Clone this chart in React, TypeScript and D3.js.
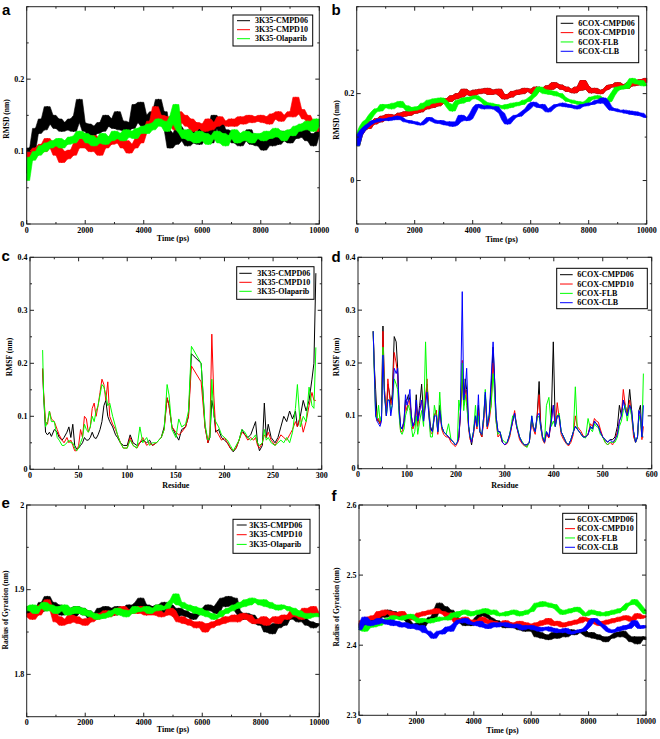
import React from 'react';
import * as d3 from 'd3';

// ---------- shared axes ----------
const TIME = d3.range(0, 10001, 100);

// ---------- panel a : RMSD 3K35 ----------
const A_CMPD06 = [
  0.070, 0.105, 0.100, 0.132, 0.125, 0.145, 0.130, 0.162, 0.138, 0.150,
  0.132, 0.145, 0.128, 0.140, 0.130, 0.145, 0.128, 0.150, 0.172, 0.140,
  0.128, 0.138, 0.118, 0.135, 0.125, 0.140, 0.128, 0.150, 0.135, 0.145,
  0.132, 0.155, 0.130, 0.142, 0.128, 0.140, 0.132, 0.165, 0.140, 0.168,
  0.135, 0.150, 0.138, 0.155, 0.145, 0.172, 0.148, 0.155, 0.130, 0.105,
  0.125, 0.110, 0.135, 0.115, 0.128, 0.108, 0.130, 0.112, 0.125, 0.110,
  0.135, 0.118, 0.128, 0.112, 0.150, 0.132, 0.145, 0.120, 0.130, 0.115,
  0.128, 0.112, 0.125, 0.108, 0.122, 0.115, 0.130, 0.110, 0.118, 0.108,
  0.120, 0.102, 0.115, 0.125, 0.108, 0.122, 0.110, 0.128, 0.115, 0.125,
  0.112, 0.130, 0.118, 0.135, 0.120, 0.138, 0.115, 0.125, 0.108, 0.122,
  0.128];
const A_CMPD10 = [
  0.090, 0.100, 0.092, 0.105, 0.098, 0.110, 0.100, 0.118, 0.105, 0.112,
  0.095, 0.105, 0.085, 0.100, 0.090, 0.102, 0.095, 0.112, 0.105, 0.118,
  0.105, 0.118, 0.100, 0.122, 0.110, 0.095, 0.115, 0.105, 0.120, 0.110,
  0.125, 0.112, 0.118, 0.105, 0.115, 0.098, 0.110, 0.105, 0.118, 0.112,
  0.125, 0.130, 0.142, 0.135, 0.162, 0.145, 0.150, 0.140, 0.148, 0.135,
  0.142, 0.130, 0.155, 0.140, 0.150, 0.135, 0.145, 0.128, 0.140, 0.132,
  0.138, 0.128, 0.145, 0.130, 0.140, 0.135, 0.148, 0.138, 0.142, 0.135,
  0.145, 0.135, 0.140, 0.148, 0.138, 0.145, 0.150, 0.140, 0.148, 0.142,
  0.150, 0.140, 0.148, 0.138, 0.152, 0.145, 0.155, 0.142, 0.150, 0.148,
  0.155, 0.148, 0.175, 0.152, 0.158, 0.145, 0.150, 0.138, 0.142, 0.130,
  0.128];
const A_OLAPARIB = [
  0.060, 0.092, 0.088, 0.100, 0.095, 0.108, 0.100, 0.112, 0.105, 0.115,
  0.108, 0.118, 0.105, 0.115, 0.110, 0.120, 0.112, 0.122, 0.128, 0.118,
  0.125, 0.112, 0.122, 0.108, 0.118, 0.112, 0.125, 0.110, 0.120, 0.115,
  0.128, 0.118, 0.125, 0.115, 0.130, 0.120, 0.128, 0.118, 0.132, 0.125,
  0.135, 0.125, 0.138, 0.130, 0.140, 0.145, 0.135, 0.142, 0.128, 0.138,
  0.150, 0.165, 0.130, 0.125, 0.118, 0.130, 0.115, 0.125, 0.112, 0.128,
  0.115, 0.125, 0.110, 0.122, 0.118, 0.128, 0.112, 0.125, 0.108, 0.122,
  0.118, 0.130, 0.112, 0.125, 0.115, 0.128, 0.120, 0.112, 0.125, 0.118,
  0.125, 0.115, 0.128, 0.118, 0.122, 0.132, 0.120, 0.128, 0.115, 0.125,
  0.130, 0.122, 0.135, 0.128, 0.138, 0.130, 0.142, 0.135, 0.128, 0.145,
  0.135];

// ---------- panel b : RMSD 6COX ----------
const B_CMPD10 = [
  0.080, 0.105, 0.115, 0.125, 0.120, 0.135, 0.130, 0.142, 0.135, 0.148,
  0.140, 0.152, 0.145, 0.150, 0.142, 0.155, 0.148, 0.158, 0.150, 0.160,
  0.155, 0.162, 0.158, 0.168, 0.165, 0.175, 0.168, 0.178, 0.172, 0.182,
  0.178, 0.188, 0.182, 0.195, 0.188, 0.200, 0.192, 0.210, 0.198, 0.205,
  0.195, 0.208, 0.200, 0.210, 0.202, 0.212, 0.198, 0.208, 0.200, 0.210,
  0.195, 0.188, 0.198, 0.192, 0.205, 0.198, 0.208, 0.200, 0.212, 0.205,
  0.210, 0.200, 0.215, 0.205, 0.212, 0.208, 0.218, 0.210, 0.225, 0.215,
  0.220, 0.210, 0.215, 0.205, 0.210, 0.202, 0.215, 0.208, 0.230, 0.218,
  0.210, 0.202, 0.212, 0.205, 0.200, 0.208, 0.210, 0.218, 0.220, 0.215,
  0.225, 0.215, 0.220, 0.212, 0.225, 0.218, 0.228, 0.220, 0.232, 0.225,
  0.235];
const B_CMPD06 = B_CMPD10; // hidden beneath CMPD10 in the figure
const B_FLB = [
  0.080, 0.110, 0.125, 0.135, 0.140, 0.150, 0.158, 0.165, 0.160, 0.175,
  0.168, 0.175, 0.165, 0.178, 0.170, 0.182, 0.168, 0.172, 0.160, 0.168,
  0.162, 0.170, 0.165, 0.178, 0.172, 0.185, 0.178, 0.188, 0.180, 0.190,
  0.185, 0.178, 0.168, 0.160, 0.175, 0.185, 0.178, 0.190, 0.182, 0.192,
  0.188, 0.195, 0.190, 0.185, 0.180, 0.172, 0.178, 0.168, 0.175, 0.170,
  0.172, 0.165, 0.175, 0.168, 0.178, 0.172, 0.180, 0.175, 0.185, 0.182,
  0.190, 0.195, 0.205, 0.215, 0.210, 0.200, 0.208, 0.198, 0.205, 0.195,
  0.200, 0.192, 0.188, 0.182, 0.185, 0.178, 0.182, 0.175, 0.180, 0.178,
  0.185, 0.192, 0.188, 0.195, 0.190, 0.185, 0.180, 0.182, 0.195, 0.205,
  0.215, 0.210, 0.218, 0.212, 0.225, 0.235, 0.228, 0.222, 0.230, 0.218,
  0.220];
const B_CLB = [
  0.080, 0.105, 0.115, 0.122, 0.128, 0.132, 0.138, 0.135, 0.142, 0.138,
  0.142, 0.138, 0.145, 0.140, 0.148, 0.145, 0.140, 0.135, 0.138, 0.132,
  0.135, 0.130, 0.128, 0.132, 0.138, 0.145, 0.140, 0.135, 0.132, 0.138,
  0.130, 0.128, 0.135, 0.125, 0.128, 0.135, 0.150, 0.145, 0.138, 0.142,
  0.155, 0.168, 0.175, 0.170, 0.165, 0.172, 0.168, 0.165, 0.170, 0.160,
  0.155, 0.140, 0.130, 0.138, 0.145, 0.150, 0.148, 0.155, 0.160, 0.165,
  0.175, 0.180, 0.172, 0.168, 0.175, 0.165, 0.158, 0.165, 0.170, 0.175,
  0.172, 0.178, 0.170, 0.175, 0.168, 0.172, 0.165, 0.170, 0.175, 0.172,
  0.178, 0.175, 0.180, 0.185, 0.178, 0.190, 0.182, 0.170, 0.162, 0.165,
  0.160, 0.158, 0.162, 0.155, 0.160, 0.152, 0.158, 0.150, 0.155, 0.148,
  0.145];

// ---------- panel c : RMSF 3K35 ----------
const C_RESIDUE = [
  13, 14, 16, 18, 20, 22, 25, 28, 30, 33,
  35, 38, 40, 42, 44, 46, 48, 50, 52, 54,
  56, 58, 60, 62, 64, 66, 68, 70, 72, 74,
  76, 78, 80, 82, 85, 88, 90, 93, 96, 100,
  103, 106, 110, 113, 116, 120, 123, 126, 130, 135,
  138, 141, 143, 146, 150, 153, 156, 160, 163, 166,
  176, 180, 183, 185, 187, 189, 191, 194, 197, 200,
  203, 206, 209, 212, 215, 218, 221, 224, 227, 230,
  232, 234, 236, 239, 241, 243, 245, 248, 252, 255,
  258, 261, 264, 267, 270, 273, 275, 278, 281, 284,
  287, 290, 292, 294];
const C_CMPD06 = [
  0.19, 0.14, 0.07, 0.065, 0.07, 0.062, 0.075, 0.07, 0.06, 0.055,
  0.06, 0.07, 0.08, 0.06, 0.085, 0.045, 0.038, 0.04, 0.045, 0.05,
  0.06, 0.055, 0.055, 0.06, 0.07, 0.06, 0.058, 0.065, 0.075, 0.09,
  0.12, 0.13, 0.1, 0.09, 0.08, 0.065, 0.06, 0.05, 0.045, 0.045,
  0.065, 0.05, 0.045, 0.05, 0.055, 0.05, 0.055, 0.045, 0.05, 0.06,
  0.08, 0.135, 0.12, 0.08, 0.065, 0.055, 0.075, 0.08, 0.1, 0.218,
  0.2, 0.08, 0.05, 0.06, 0.13, 0.11, 0.07, 0.075, 0.06, 0.055,
  0.05, 0.04, 0.033, 0.04, 0.055, 0.075, 0.065, 0.06, 0.065, 0.08,
  0.09, 0.05, 0.035, 0.045, 0.125, 0.06, 0.085, 0.06, 0.05, 0.06,
  0.08, 0.1, 0.09, 0.11, 0.095, 0.11, 0.08, 0.1, 0.13, 0.11,
  0.13, 0.17, 0.2, 0.37];
const C_CMPD10 = [
  0.19, 0.145, 0.09, 0.085, 0.11, 0.095, 0.09, 0.075, 0.065, 0.055,
  0.05, 0.06, 0.05, 0.055, 0.045, 0.035, 0.035, 0.045, 0.075, 0.06,
  0.1, 0.095, 0.07, 0.08, 0.115, 0.125, 0.1, 0.12, 0.145, 0.17,
  0.16, 0.13, 0.165, 0.1, 0.085, 0.075, 0.065, 0.05, 0.04, 0.04,
  0.06, 0.045, 0.04, 0.05, 0.06, 0.045, 0.05, 0.045, 0.05, 0.06,
  0.075, 0.135, 0.12, 0.08, 0.07, 0.065, 0.07, 0.08, 0.1, 0.195,
  0.165, 0.08, 0.05, 0.07, 0.255, 0.14, 0.075, 0.065, 0.055, 0.06,
  0.05, 0.04, 0.035, 0.04, 0.055, 0.07, 0.065, 0.055, 0.06, 0.055,
  0.06, 0.045, 0.04, 0.05, 0.065, 0.06, 0.07, 0.055, 0.045, 0.055,
  0.065, 0.06, 0.055, 0.065, 0.075, 0.09, 0.08, 0.1, 0.07, 0.09,
  0.12, 0.145, 0.13, 0.13];
const C_OLAPARIB = [
  0.225, 0.14, 0.08, 0.09, 0.11, 0.09, 0.09, 0.06, 0.055, 0.045,
  0.045, 0.05, 0.055, 0.05, 0.05, 0.04, 0.035, 0.04, 0.05, 0.06,
  0.085, 0.075, 0.07, 0.08, 0.1, 0.09, 0.11, 0.12, 0.14, 0.16,
  0.155, 0.14, 0.12, 0.125, 0.1, 0.08, 0.065, 0.05, 0.04, 0.04,
  0.055, 0.045, 0.04, 0.08, 0.05, 0.06, 0.045, 0.05, 0.05, 0.06,
  0.075, 0.16, 0.14, 0.075, 0.06, 0.095, 0.08, 0.085, 0.11, 0.232,
  0.2, 0.085, 0.055, 0.06, 0.17, 0.1, 0.09, 0.08, 0.065, 0.06,
  0.055, 0.045, 0.035, 0.045, 0.055, 0.075, 0.07, 0.06, 0.055, 0.06,
  0.065, 0.05, 0.045, 0.05, 0.075, 0.055, 0.06, 0.05, 0.045, 0.05,
  0.055, 0.05, 0.06, 0.05, 0.07, 0.115, 0.16, 0.08, 0.1, 0.09,
  0.155, 0.12, 0.115, 0.23];

// ---------- panel d : RMSF 6COX ----------
const D_RESIDUE = [
  31, 33, 36, 39, 42, 45, 48, 51, 54, 58,
  61, 64, 67, 70, 74, 78, 81, 84, 87, 90,
  94, 97, 100, 103, 106, 109, 112, 116, 119, 122,
  126, 130, 134, 138, 141, 145, 148, 152, 156, 160,
  163, 167, 171, 175, 180, 185, 190, 195, 199, 203,
  206, 209, 213, 216, 219, 222, 226, 229, 232, 236,
  240, 243, 246, 249, 253, 257, 260, 264, 268, 272,
  276, 279, 282, 286, 290, 295, 300, 305, 310, 316,
  320, 324, 330, 335, 340, 345, 350, 355, 358, 362,
  366, 370, 373, 377, 381, 385, 390, 395, 399, 403,
  407, 411, 415, 420, 425, 430, 435, 440, 444, 448,
  452, 456, 460, 465, 470, 475, 479, 483, 487, 491,
  495, 500, 505, 510, 515, 520, 525, 530, 534, 538,
  542, 546, 550, 555, 559, 563, 567, 571, 574, 577,
  580, 583];
const D_CMPD06 = [
  0.26, 0.2, 0.15, 0.095, 0.09, 0.085, 0.1, 0.27, 0.15, 0.1,
  0.16, 0.145, 0.125, 0.14, 0.25, 0.24, 0.19, 0.12, 0.08, 0.075,
  0.09, 0.13, 0.13, 0.14, 0.13, 0.1, 0.08, 0.09, 0.14, 0.09,
  0.12, 0.16, 0.1, 0.13, 0.16, 0.11, 0.08, 0.07, 0.1, 0.11,
  0.07, 0.12, 0.08, 0.07, 0.065, 0.06, 0.055, 0.05, 0.045, 0.05,
  0.06, 0.1, 0.17, 0.12, 0.17, 0.15, 0.08, 0.06, 0.045, 0.07,
  0.1, 0.08, 0.12, 0.07, 0.06, 0.1, 0.14, 0.08, 0.1, 0.15,
  0.23, 0.17, 0.1, 0.07, 0.07, 0.05, 0.045, 0.05, 0.065, 0.09,
  0.105, 0.08, 0.06, 0.05, 0.045, 0.045, 0.05, 0.095, 0.08, 0.07,
  0.1, 0.165, 0.09, 0.06, 0.05, 0.07, 0.06, 0.1, 0.24, 0.08,
  0.1, 0.1, 0.07, 0.06, 0.05, 0.045, 0.055, 0.07, 0.08, 0.075,
  0.07, 0.065, 0.06, 0.06, 0.065, 0.08, 0.075, 0.09, 0.085, 0.08,
  0.07, 0.06, 0.055, 0.05, 0.055, 0.055, 0.06, 0.08, 0.12, 0.1,
  0.13, 0.12, 0.1, 0.15, 0.11, 0.07, 0.05, 0.06, 0.11, 0.12,
  0.06, 0.06];
const D_CMPD10 = [
  0.26, 0.2, 0.11, 0.09, 0.095, 0.085, 0.095, 0.26, 0.15, 0.1,
  0.17, 0.14, 0.12, 0.13, 0.22, 0.2, 0.18, 0.11, 0.07, 0.07,
  0.085, 0.12, 0.11, 0.13, 0.125, 0.1, 0.075, 0.085, 0.12, 0.08,
  0.11, 0.13, 0.09, 0.13, 0.17, 0.1, 0.07, 0.065, 0.1, 0.11,
  0.065, 0.11, 0.075, 0.065, 0.06, 0.06, 0.05, 0.045, 0.042, 0.048,
  0.055, 0.1, 0.205, 0.12, 0.15, 0.13, 0.075, 0.055, 0.05, 0.065,
  0.095, 0.075, 0.11, 0.07, 0.06, 0.09, 0.13, 0.075, 0.09, 0.12,
  0.2, 0.16, 0.09, 0.06, 0.065, 0.05, 0.045, 0.048, 0.06, 0.09,
  0.11, 0.08, 0.055, 0.048, 0.043, 0.042, 0.05, 0.09, 0.075, 0.065,
  0.1, 0.14, 0.08, 0.055, 0.048, 0.065, 0.058, 0.09, 0.12, 0.08,
  0.125, 0.095, 0.065, 0.055, 0.048, 0.043, 0.05, 0.065, 0.1, 0.08,
  0.075, 0.07, 0.062, 0.06, 0.065, 0.085, 0.08, 0.095, 0.09, 0.088,
  0.075, 0.06, 0.05, 0.045, 0.05, 0.045, 0.055, 0.07, 0.09, 0.1,
  0.15, 0.12, 0.1, 0.13, 0.1, 0.06, 0.05, 0.06, 0.1, 0.1,
  0.055, 0.08];
const D_FLB = [
  0.26, 0.19, 0.1, 0.095, 0.12, 0.09, 0.1, 0.23, 0.14, 0.1,
  0.13, 0.13, 0.11, 0.12, 0.17, 0.16, 0.15, 0.1, 0.07, 0.065,
  0.075, 0.1, 0.11, 0.12, 0.11, 0.08, 0.06, 0.07, 0.1, 0.065,
  0.09, 0.11, 0.08, 0.24, 0.15, 0.1, 0.06, 0.06, 0.12, 0.1,
  0.07, 0.145, 0.08, 0.07, 0.065, 0.085, 0.055, 0.05, 0.045, 0.05,
  0.13, 0.11, 0.2, 0.11, 0.14, 0.12, 0.08, 0.06, 0.055, 0.07,
  0.12, 0.08, 0.1, 0.07, 0.065, 0.1, 0.15, 0.08, 0.1, 0.12,
  0.18, 0.14, 0.09, 0.065, 0.07, 0.055, 0.05, 0.05, 0.065, 0.1,
  0.1, 0.085, 0.06, 0.052, 0.045, 0.04, 0.05, 0.1, 0.08, 0.07,
  0.095, 0.1, 0.08, 0.06, 0.05, 0.12, 0.135, 0.08, 0.09, 0.08,
  0.1, 0.105, 0.07, 0.06, 0.05, 0.045, 0.055, 0.07, 0.155, 0.075,
  0.07, 0.065, 0.06, 0.058, 0.095, 0.075, 0.07, 0.085, 0.08, 0.078,
  0.065, 0.06, 0.05, 0.045, 0.05, 0.05, 0.05, 0.06, 0.08, 0.09,
  0.11, 0.12, 0.09, 0.12, 0.1, 0.07, 0.05, 0.06, 0.1, 0.09,
  0.06, 0.18];
const D_CLB = [
  0.26, 0.2, 0.1, 0.09, 0.085, 0.08, 0.09, 0.215, 0.14, 0.1,
  0.13, 0.13, 0.1, 0.12, 0.19, 0.18, 0.19, 0.11, 0.08, 0.075,
  0.09, 0.14, 0.12, 0.13, 0.15, 0.1, 0.08, 0.09, 0.13, 0.09,
  0.11, 0.13, 0.09, 0.12, 0.145, 0.1, 0.075, 0.07, 0.1, 0.1,
  0.07, 0.11, 0.08, 0.07, 0.065, 0.06, 0.055, 0.05, 0.045, 0.05,
  0.06, 0.1, 0.335, 0.13, 0.15, 0.19, 0.08, 0.06, 0.05, 0.07,
  0.1, 0.08, 0.14, 0.07, 0.065, 0.1, 0.145, 0.08, 0.1, 0.17,
  0.24, 0.17, 0.1, 0.07, 0.07, 0.05, 0.045, 0.05, 0.065, 0.09,
  0.105, 0.08, 0.06, 0.05, 0.045, 0.045, 0.05, 0.1, 0.08, 0.07,
  0.1, 0.105, 0.08, 0.06, 0.05, 0.07, 0.06, 0.09, 0.12, 0.08,
  0.1, 0.1, 0.07, 0.06, 0.05, 0.045, 0.055, 0.07, 0.08, 0.075,
  0.07, 0.065, 0.06, 0.06, 0.065, 0.08, 0.075, 0.09, 0.085, 0.08,
  0.07, 0.06, 0.055, 0.05, 0.055, 0.05, 0.055, 0.065, 0.09, 0.1,
  0.13, 0.11, 0.1, 0.12, 0.11, 0.07, 0.05, 0.06, 0.11, 0.1,
  0.06, 0.12];

// ---------- panel e : Rg 3K35 ----------
const E_CMPD06 = [
  1.872, 1.880, 1.868, 1.878, 1.872, 1.885, 1.875, 1.892, 1.878, 1.885,
  1.875, 1.882, 1.870, 1.880, 1.872, 1.878, 1.868, 1.880, 1.872, 1.878,
  1.870, 1.875, 1.865, 1.872, 1.868, 1.878, 1.870, 1.880, 1.872, 1.878,
  1.870, 1.880, 1.872, 1.878, 1.870, 1.882, 1.875, 1.880, 1.885, 1.890,
  1.878, 1.882, 1.872, 1.880, 1.875, 1.882, 1.872, 1.885, 1.878, 1.882,
  1.875, 1.868, 1.878, 1.870, 1.875, 1.868, 1.872, 1.865, 1.870, 1.875,
  1.872, 1.878, 1.882, 1.875, 1.880, 1.872, 1.885, 1.890, 1.880, 1.892,
  1.882, 1.890, 1.875, 1.870, 1.865, 1.872, 1.865, 1.870, 1.860, 1.865,
  1.858, 1.862, 1.850, 1.858, 1.848, 1.860, 1.855, 1.862, 1.858, 1.868,
  1.865, 1.872, 1.868, 1.862, 1.870, 1.865, 1.858, 1.862, 1.855, 1.860,
  1.858];
const E_CMPD10 = [
  1.868, 1.872, 1.865, 1.878, 1.870, 1.882, 1.876, 1.888, 1.878, 1.875,
  1.862, 1.868, 1.858, 1.865, 1.860, 1.870, 1.862, 1.868, 1.860, 1.865,
  1.858, 1.866, 1.862, 1.870, 1.865, 1.872, 1.868, 1.875, 1.868, 1.872,
  1.870, 1.878, 1.872, 1.880, 1.870, 1.876, 1.872, 1.878, 1.872, 1.880,
  1.875, 1.870, 1.878, 1.872, 1.870, 1.875, 1.868, 1.872, 1.870, 1.878,
  1.875, 1.868, 1.862, 1.868, 1.860, 1.865, 1.858, 1.862, 1.855, 1.862,
  1.858, 1.850, 1.860, 1.855, 1.862, 1.858, 1.865, 1.860, 1.868, 1.862,
  1.865, 1.870, 1.862, 1.868, 1.872, 1.865, 1.870, 1.862, 1.860, 1.865,
  1.860, 1.868, 1.858, 1.865, 1.862, 1.868, 1.860, 1.865, 1.870, 1.865,
  1.870, 1.875, 1.868, 1.872, 1.865, 1.878, 1.870, 1.875, 1.880, 1.872,
  1.870];
const E_OLAPARIB = [
  1.880, 1.875, 1.882, 1.872, 1.880, 1.878, 1.885, 1.875, 1.882, 1.878,
  1.872, 1.880, 1.875, 1.882, 1.870, 1.878, 1.872, 1.880, 1.872, 1.878,
  1.870, 1.875, 1.868, 1.872, 1.865, 1.870, 1.866, 1.872, 1.868, 1.875,
  1.872, 1.878, 1.870, 1.876, 1.868, 1.875, 1.872, 1.880, 1.874, 1.878,
  1.875, 1.880, 1.872, 1.878, 1.875, 1.882, 1.876, 1.880, 1.878, 1.885,
  1.888, 1.895, 1.882, 1.885, 1.878, 1.882, 1.875, 1.880, 1.872, 1.878,
  1.870, 1.875, 1.868, 1.872, 1.865, 1.870, 1.868, 1.875, 1.872, 1.878,
  1.875, 1.882, 1.878, 1.885, 1.880, 1.888, 1.882, 1.890, 1.885, 1.888,
  1.882, 1.888, 1.880, 1.885, 1.878, 1.882, 1.876, 1.882, 1.878, 1.880,
  1.875, 1.878, 1.870, 1.875, 1.868, 1.872, 1.866, 1.872, 1.868, 1.872,
  1.868];

// ---------- panel f : Rg 6COX ----------
const F_CMPD06 = [
  2.425, 2.432, 2.428, 2.435, 2.430, 2.438, 2.432, 2.440, 2.445, 2.440,
  2.450, 2.442, 2.448, 2.440, 2.445, 2.438, 2.442, 2.435, 2.430, 2.425,
  2.428, 2.432, 2.425, 2.435, 2.432, 2.440, 2.438, 2.450, 2.460, 2.448,
  2.455, 2.445, 2.450, 2.442, 2.438, 2.432, 2.435, 2.428, 2.432, 2.428,
  2.432, 2.438, 2.442, 2.448, 2.445, 2.440, 2.438, 2.432, 2.435, 2.428,
  2.430, 2.425, 2.432, 2.428, 2.425, 2.430, 2.422, 2.428, 2.420, 2.425,
  2.420, 2.425, 2.412, 2.418, 2.410, 2.415, 2.408, 2.412, 2.418, 2.410,
  2.415, 2.420, 2.412, 2.418, 2.422, 2.415, 2.420, 2.418, 2.422, 2.415,
  2.412, 2.418, 2.410, 2.415, 2.408, 2.412, 2.405, 2.412, 2.410, 2.415,
  2.418, 2.412, 2.420, 2.415, 2.410, 2.405, 2.412, 2.402, 2.408, 2.412,
  2.408];
const F_CMPD10 = [
  2.428, 2.435, 2.432, 2.440, 2.436, 2.442, 2.438, 2.448, 2.442, 2.450,
  2.445, 2.448, 2.440, 2.446, 2.442, 2.448, 2.440, 2.438, 2.442, 2.436,
  2.440, 2.446, 2.442, 2.448, 2.444, 2.450, 2.445, 2.452, 2.446, 2.448,
  2.444, 2.440, 2.446, 2.438, 2.432, 2.438, 2.434, 2.440, 2.436, 2.432,
  2.436, 2.430, 2.435, 2.440, 2.432, 2.436, 2.430, 2.434, 2.428, 2.432,
  2.430, 2.435, 2.428, 2.432, 2.426, 2.430, 2.434, 2.428, 2.432, 2.426,
  2.430, 2.425, 2.432, 2.428, 2.435, 2.430, 2.438, 2.432, 2.428, 2.434,
  2.430, 2.426, 2.432, 2.428, 2.434, 2.430, 2.436, 2.432, 2.440, 2.435,
  2.438, 2.432, 2.436, 2.430, 2.428, 2.434, 2.430, 2.436, 2.432, 2.438,
  2.434, 2.440, 2.436, 2.442, 2.438, 2.434, 2.440, 2.445, 2.438, 2.442,
  2.440];
const F_FLB = [
  2.422, 2.428, 2.420, 2.425, 2.430, 2.426, 2.432, 2.428, 2.435, 2.432,
  2.438, 2.435, 2.442, 2.438, 2.440, 2.436, 2.442, 2.438, 2.444, 2.440,
  2.436, 2.432, 2.438, 2.434, 2.436, 2.432, 2.438, 2.434, 2.440, 2.436,
  2.440, 2.436, 2.442, 2.446, 2.440, 2.448, 2.444, 2.450, 2.446, 2.442,
  2.448, 2.444, 2.450, 2.446, 2.452, 2.448, 2.444, 2.450, 2.446, 2.442,
  2.446, 2.442, 2.448, 2.444, 2.450, 2.446, 2.442, 2.448, 2.444, 2.450,
  2.448, 2.454, 2.460, 2.455, 2.462, 2.456, 2.460, 2.454, 2.458, 2.452,
  2.448, 2.444, 2.450, 2.446, 2.452, 2.448, 2.454, 2.450, 2.446, 2.442,
  2.446, 2.450, 2.444, 2.448, 2.442, 2.446, 2.442, 2.448, 2.444, 2.450,
  2.446, 2.452, 2.450, 2.456, 2.460, 2.458, 2.465, 2.460, 2.455, 2.450,
  2.445];
const F_CLB = [
  2.422, 2.430, 2.440, 2.432, 2.428, 2.435, 2.430, 2.438, 2.432, 2.436,
  2.430, 2.436, 2.428, 2.434, 2.430, 2.426, 2.432, 2.428, 2.424, 2.430,
  2.426, 2.422, 2.428, 2.418, 2.420, 2.415, 2.410, 2.416, 2.420, 2.416,
  2.422, 2.426, 2.420, 2.428, 2.432, 2.436, 2.432, 2.438, 2.434, 2.430,
  2.432, 2.428, 2.434, 2.426, 2.430, 2.424, 2.428, 2.432, 2.426, 2.432,
  2.428, 2.432, 2.426, 2.430, 2.425, 2.430, 2.426, 2.422, 2.428, 2.424,
  2.428, 2.422, 2.426, 2.420, 2.425, 2.422, 2.426, 2.420, 2.424, 2.418,
  2.422, 2.418, 2.424, 2.420, 2.416, 2.420, 2.418, 2.422, 2.420, 2.424,
  2.428, 2.435, 2.438, 2.434, 2.430, 2.428, 2.424, 2.420, 2.418, 2.422,
  2.420, 2.426, 2.422, 2.428, 2.424, 2.430, 2.435, 2.428, 2.424, 2.428,
  2.425];

// ---------- tick labels ----------
const TIME_TICKS = [0, 2000, 4000, 6000, 8000, 10000];
const A_YTICKS = [0, 0.1, 0.2];
const B_YTICKS = [0, 0.2];
const C_XTICKS = [0, 50, 100, 150, 200, 250, 300];
const RMSF_YTICKS = [0, 0.1, 0.2, 0.3, 0.4];
const D_XTICKS = [0, 100, 200, 300, 400, 500, 600];
const E_YTICKS = [1.8, 1.9, 2];
const F_YTICKS = [2.3, 2.4, 2.5, 2.6];

const NAMES_3K35 = ['3K35-CMPD06', '3K35-CMPD10', '3K35-Olaparib'];
const NAMES_6COX = ['6COX-CMPD06', '6COX-CMPD10', '6COX-FLB', '6COX-CLB'];
const COLORS = ['#000000', '#ff0000', '#00ff00', '#0000ff'];

const SERIF = "'Liberation Serif','Times New Roman',serif";
const SANS = "'Liberation Sans',Arial,sans-serif";

type Legend = { x: number; y: number; w: number; h: number; l0: number; l1: number; tx: number; r0: number; step: number };
type Cfg = {
  letter: string; lx: number; ly: number;
  left: number; right: number; top: number; bottom: number;
  xDomain: [number, number]; yDomain: [number, number];
  xTicks: number[]; xMinorStep: number; yTicks: number[]; yMinorStep: number;
  xTitle: string; yTitle: string; xTitleY: number; yTitleX: number; yTitleY: number;
  x: number[]; series: number[][]; names: string[]; legend: Legend; dense: boolean;
};

const PANELS: Cfg[] = [
  {
    letter: 'a', lx: 2, ly: 15, left: 26.7, right: 319.3, top: 6.7, bottom: 224,
    xDomain: [0, 10000], yDomain: [0, 0.3], xTicks: TIME_TICKS, xMinorStep: 1000, yTicks: A_YTICKS, yMinorStep: 0.05,
    xTitle: 'Time (ps)', yTitle: 'RMSD (nm)', xTitleY: 241, yTitleX: 7, yTitleY: 119,
    x: TIME, series: [A_CMPD06, A_CMPD10, A_OLAPARIB], names: NAMES_3K35, dense: true,
    legend: { x: 233, y: 15, w: 79.7, h: 31, l0: 237, l1: 250, tx: 255, r0: 20.7, step: 9 },
  },
  {
    letter: 'b', lx: 331.5, ly: 15, left: 356.7, right: 646.7, top: 6.7, bottom: 224,
    xDomain: [0, 10000], yDomain: [-0.1, 0.4], xTicks: TIME_TICKS, xMinorStep: 1000, yTicks: B_YTICKS, yMinorStep: 0.1,
    xTitle: 'Time (ps)', yTitle: 'RMSD (nm)', xTitleY: 242, yTitleX: 336.5, yTitleY: 120,
    x: TIME, series: [B_CMPD06, B_CMPD10, B_FLB, B_CLB], names: NAMES_6COX, dense: true,
    legend: { x: 556.7, y: 16, w: 82, h: 46.7, l0: 560.7, l1: 573.3, tx: 578.3, r0: 23.3, step: 9.33 },
  },
  {
    letter: 'c', lx: 1.5, ly: 261, left: 30, right: 321.7, top: 257.3, bottom: 469.3,
    xDomain: [0, 300], yDomain: [0, 0.4], xTicks: C_XTICKS, xMinorStep: 25, yTicks: RMSF_YTICKS, yMinorStep: 0.05,
    xTitle: 'Residue', yTitle: 'RMSF (nm)', xTitleY: 488, yTitleX: 10, yTitleY: 357,
    x: C_RESIDUE, series: [C_CMPD06, C_CMPD10, C_OLAPARIB], names: NAMES_3K35, dense: false,
    legend: { x: 236.7, y: 266.7, w: 77.3, h: 32.6, l0: 239.3, l1: 251.7, tx: 257.3, r0: 273.3, step: 9 },
  },
  {
    letter: 'd', lx: 331.5, ly: 262, left: 358, right: 651.7, top: 257.3, bottom: 468.7,
    xDomain: [0, 600], yDomain: [0, 0.4], xTicks: D_XTICKS, xMinorStep: 50, yTicks: RMSF_YTICKS, yMinorStep: 0.05,
    xTitle: 'Residue', yTitle: 'RMSF (nm)', xTitleY: 488, yTitleX: 337, yTitleY: 357,
    x: D_RESIDUE, series: [D_CMPD06, D_CMPD10, D_FLB, D_CLB], names: NAMES_6COX, dense: false,
    legend: { x: 556.7, y: 268.3, w: 90.6, h: 40.4, l0: 560, l1: 572.7, tx: 577.3, r0: 274.7, step: 9.33 },
  },
  {
    letter: 'e', lx: 1.5, ly: 508, left: 26.7, right: 319.3, top: 505, bottom: 716.7,
    xDomain: [0, 10000], yDomain: [1.75, 2], xTicks: TIME_TICKS, xMinorStep: 1000, yTicks: E_YTICKS, yMinorStep: 0.05,
    xTitle: 'Time (ps)', yTitle: 'Radius of Gyration (nm)', xTitleY: 732, yTitleX: 6, yTitleY: 610,
    x: TIME, series: [E_CMPD06, E_CMPD10, E_OLAPARIB], names: NAMES_3K35, dense: true,
    legend: { x: 233, y: 519.3, w: 77, h: 34, l0: 236.7, l1: 246.7, tx: 249.3, r0: 525, step: 9.7 },
  },
  {
    letter: 'f', lx: 331.5, ly: 501, left: 359, right: 646, top: 505, bottom: 715.3,
    xDomain: [0, 10000], yDomain: [2.3, 2.6], xTicks: TIME_TICKS, xMinorStep: 1000, yTicks: F_YTICKS, yMinorStep: 0.05,
    xTitle: 'Time (ps)', yTitle: 'Radius of Gyration (nm)', xTitleY: 733, yTitleX: 337, yTitleY: 607,
    x: TIME, series: [F_CMPD06, F_CMPD10, F_FLB, F_CLB], names: NAMES_6COX, dense: true,
    legend: { x: 562.7, y: 513.3, w: 74, h: 40, l0: 565, l1: 575, tx: 577.3, r0: 519.3, step: 9.33 },
  },
];

const round = (v: number) => Math.round(v * 1e6) / 1e6;

function Panel({ c }: { c: Cfg }) {
  const x = d3.scaleLinear().domain(c.xDomain).range([c.left, c.right]);
  const y = d3.scaleLinear().domain(c.yDomain).range([c.bottom, c.top]);
  const line = d3.line<number>().x((_, i) => x(c.x[i])).y((d) => y(d));
  // envelope of neighbouring samples: renders the dense trajectory trace as a band
  const band = (s: number[]) =>
    d3.area<number>()
      .x((_, i) => x(c.x[i]))
      .y0((_, i) => y(d3.min(s.slice(Math.max(0, i - 1), i + 2)) as number))
      .y1((_, i) => y(d3.max(s.slice(Math.max(0, i - 1), i + 2)) as number))(s) || '';
  const xAll = d3.range(c.xDomain[0], c.xDomain[1] + c.xMinorStep / 2, c.xMinorStep).map(round);
  const yAll = d3.range(c.yDomain[0], c.yDomain[1] + c.yMinorStep / 2, c.yMinorStep).map(round);
  const isMajorX = (v: number) => c.xTicks.some((t) => Math.abs(t - v) < 1e-6);
  const isMajorY = (v: number) => c.yTicks.some((t) => Math.abs(t - v) < 1e-6);
  const frame = '#222';
  return (
    <g>
      {c.series.map((s, i) => (
        <g key={i}>
          {c.dense && <path d={band(s)} fill={COLORS[i]} stroke={COLORS[i]} strokeWidth={0.6} />}
          <path d={line(s) || ''} fill="none" stroke={COLORS[i]} strokeWidth={c.dense ? 1.2 : 1} strokeLinejoin="round" />
        </g>
      ))}
      <rect x={c.left} y={c.top} width={c.right - c.left} height={c.bottom - c.top} fill="none" stroke={frame} strokeWidth={1} />
      {xAll.map((v, i) => {
        const len = isMajorX(v) ? 4 : 2;
        const px = x(v);
        return (
          <g key={'xt' + i}>
            <line x1={px} x2={px} y1={c.bottom} y2={c.bottom - len} stroke={frame} />
            <line x1={px} x2={px} y1={c.top} y2={c.top + len} stroke={frame} />
          </g>
        );
      })}
      {yAll.map((v, i) => {
        const len = isMajorY(v) ? 4 : 2;
        const py = y(v);
        return (
          <g key={'yt' + i}>
            <line x1={c.left} x2={c.left + len} y1={py} y2={py} stroke={frame} />
            <line x1={c.right} x2={c.right - len} y1={py} y2={py} stroke={frame} />
          </g>
        );
      })}
      {c.xTicks.map((v, i) => (
        <text key={'xl' + i} x={x(v)} y={c.bottom + 8.5} textAnchor="middle" fontFamily={SERIF} fontWeight="bold" fontSize={8}>
          {String(v)}
        </text>
      ))}
      {c.yTicks.map((v, i) => (
        <text key={'yl' + i} x={c.left - 2.5} y={y(v)} dy="0.33em" textAnchor="end" fontFamily={SERIF} fontWeight="bold" fontSize={8}>
          {String(v)}
        </text>
      ))}
      <text x={(c.left + c.right) / 2} y={c.xTitleY} textAnchor="middle" fontFamily={SERIF} fontWeight="bold" fontSize={8}>
        {c.xTitle}
      </text>
      <text
        transform={`translate(${c.yTitleX},${c.yTitleY}) rotate(-90)`}
        textAnchor="middle" dy="0.33em" fontFamily={SERIF} fontWeight="bold" fontSize={7.5}
      >
        {c.yTitle}
      </text>
      <rect x={c.legend.x} y={c.legend.y} width={c.legend.w} height={c.legend.h} fill="#fff" stroke="#000" strokeWidth={1} />
      {c.names.map((n, i) => {
        const ry = c.legend.r0 + i * c.legend.step;
        return (
          <g key={'lg' + i}>
            <line x1={c.legend.l0} x2={c.legend.l1} y1={ry} y2={ry} stroke={COLORS[i]} strokeWidth={1} />
            <text x={c.legend.tx} y={ry} dy="0.33em" fontFamily={SERIF} fontWeight="bold" fontSize={8}>
              {n}
            </text>
          </g>
        );
      })}
      <text x={c.lx} y={c.ly} fontFamily={SANS} fontWeight="bold" fontSize={15}>
        {c.letter}
      </text>
    </g>
  );
}

export default function App() {
  return (
    <svg width={660} height={739} style={{ position: 'absolute', left: 0, top: 0, background: '#fff' }}>
      <rect x={0} y={0} width={660} height={739} fill="#fff" />
      {PANELS.map((p) => (
        <Panel key={p.letter} c={p} />
      ))}
    </svg>
  );
}
